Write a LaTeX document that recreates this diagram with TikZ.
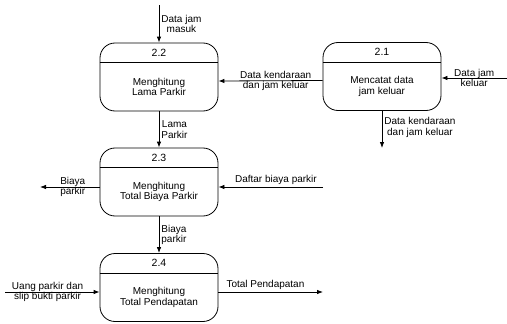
\documentclass[tikz,border=0pt]{standalone}
\usepackage{fontspec}
\setmainfont{Liberation Sans}
\usetikzlibrary{calc,positioning,arrows.meta}

\tikzset{
	proses/.style={draw, rounded corners=15pt, minimum width=118pt, minimum height=68pt},
	nomor/.style={font=\fontsize{10.5}{12}\selectfont},
	isi/.style={align=center, font=\fontsize{10}{10.5}\selectfont},
	ket/.style={align=center, font=\fontsize{10}{10.5}\selectfont, inner sep=2pt},
}

\begin{document}
\begin{tikzpicture}[x=1pt,y=-1pt,line width=0.8pt]
		\useasboundingbox (0,0) rectangle (507,324);
		% proses
		\node[proses] (p22) at (159,77) {};
		\node[proses] (p21) at (382,76.5) {};
		\node[proses] (p23) at (159,182) {};
		\node[proses] (p24) at (159,287.5) {};
		\foreach \p/\n in {p22/2.2,p21/2.1,p23/2.3,p24/2.4}
		{
			\draw ($(\p.north west)+(0,20)$) -- ($(\p.north east)+(0,20)$);
			\node[nomor] at ($(\p.north)+(0,10)$) {\n};
		}
		\node[isi] (t22) at ($(p22)+(0,10)$) {Menghitung\\Lama Parkir};
		\node[isi] (t21) at ($(p21)+(0,10)$) {Mencatat data\\jam keluar};
		\node[isi] (t23) at ($(p23)+(0,10)$) {Menghitung\\Total Biaya Parkir};
		\node[isi] (t24) at ($(p24)+(0,10)$) {Menghitung\\Total Pendapatan};
		% ujung aliran
		\coordinate (a22) at (159,5);
		\coordinate (a21) at (507,78);
		\coordinate (b21) at (382,148);
		\coordinate (a23) at (323,187);
		\coordinate (b23) at (40,187);
		\coordinate (a24) at (5,292);
		\coordinate (b24) at (323,292);
		\path[-{Latex[length=6pt,width=4.5pt]}]
		(a22) edge node [ket,right] {Data jam\\masuk} (p22)
		([yshift=-4pt]p21.west) edge node [ket,pos=0.45] {Data kendaraan\\dan jam keluar} ([yshift=-4pt]p22.east)
		(a21) edge node [ket] {Data jam\\keluar} (p21.east |- a21)
		(p21) edge node [ket,right,pos=0.45] {Data kendaraan\\dan jam keluar} (b21)
		(p22) edge node [ket,right] {Lama\\Parkir} (p23)
		(a23) edge node [ket,above,pos=0.45] {Daftar biaya parkir} (p23.east |- a23)
		(p23.west |- b23) edge node [ket,pos=0.45] {Biaya\\parkir} (b23)
		(p23) edge node [ket,right] {Biaya\\parkir} (p24)
		(a24) edge node [ket,pos=0.45] {Uang parkir dan\\slip bukti parkir} (p24.west |- a24)
		(p24.east |- b24) edge node [ket,above,pos=0.45] {Total Pendapatan} (b24);
\end{tikzpicture}
\end{document}
